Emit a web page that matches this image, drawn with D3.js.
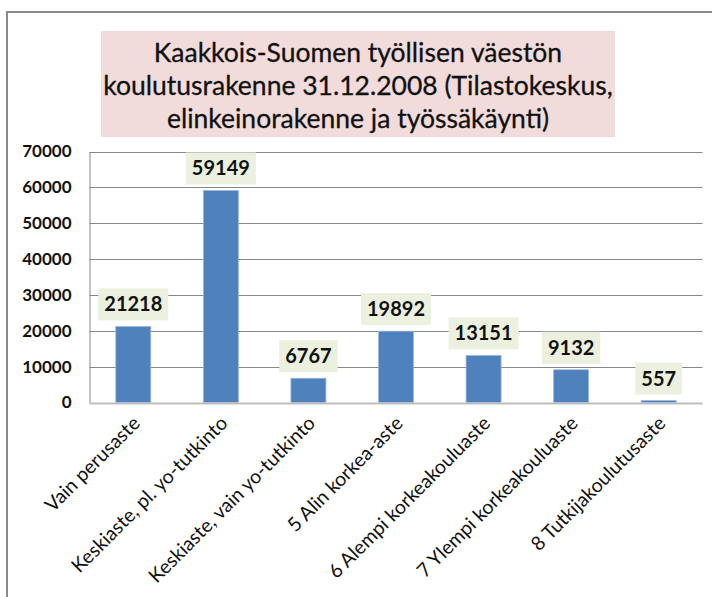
<!DOCTYPE html>
<html>
<head>
<meta charset="utf-8">
<script src="https://cdn.jsdelivr.net/npm/d3@7"></script>
<style>
  body { margin: 0; background: #fff; }
  svg { display: block; font-family: Lato, "Open Sans", sans-serif; }
</style>
</head>
<body>
<svg width="712" height="597"></svg>
<script>
// data
const categories = [
  "Vain perusaste",
  "Keskiaste, pl. yo-tutkinto",
  "Keskiaste, vain yo-tutkinto",
  "5 Alin korkea-aste",
  "6 Alempi korkeakouluaste",
  "7 Ylempi korkeakouluaste",
  "8 Tutkijakoulutusaste"
];
const values = [21218, 59149, 6767, 19892, 13151, 9132, 557];
const yTicks = [0, 10000, 20000, 30000, 40000, 50000, 60000, 70000];
const titleLines = [
  "Kaakkois-Suomen työllisen väestön",
  "koulutusrakenne 31.12.2008 (Tilastokeskus,",
  "elinkeinorakenne ja työssäkäynti)"
];

var svg = d3.select("svg");

// kehys (vain vasen ja ylä reuna näkyy)
svg.append("path")
  .attr("d", "M7,597 V12 H712")
  .attr("fill", "none")
  .attr("stroke", "#8a8a8a")
  .attr("stroke-width", 2);

// otsikko
svg.append("rect")
  .attr("x", 101).attr("y", 31)
  .attr("width", 514).attr("height", 106)
  .attr("fill", "#f2dcdb");

svg.append("g")
  .selectAll("text")
  .data(titleLines)
  .enter()
  .append("text")
  .attr("x", 358)
  .attr("y", (d, i) => 62 + i * 33)
  .attr("text-anchor", "middle")
  .attr("font-size", 26.5)
  .attr("fill", "#111")
  .attr("stroke", "#111")
  .attr("stroke-width", 0.3)
  .text(d => d);

const plotLeft = 89.5, plotRight = 702.5, plotTop = 151.5, plotBottom = 402.5;

var x = d3.scaleBand().domain(categories).range([plotLeft, plotRight]).paddingInner(0.6).paddingOuter(0.3);
var y = d3.scaleLinear().domain([0, 70000]).range([plotBottom, plotTop]);

// ruudukko
svg.append("g")
  .selectAll("line")
  .data(yTicks.filter(d => d > 0))
  .enter()
  .append("line")
  .attr("x1", plotLeft).attr("x2", plotRight)
  .attr("y1", d => Math.round(y(d)) + 0.5)
  .attr("y2", d => Math.round(y(d)) + 0.5)
  .attr("stroke", "#888");

// y-akseli
svg.append("g")
  .attr("transform", "translate(" + plotLeft + ",0)")
  .call(d3.axisLeft(y).tickValues(yTicks).tickFormat(d3.format("d")).tickSize(0).tickPadding(18))
  .call(g => g.select(".domain").attr("stroke", "#888"))
  .call(g => g.selectAll("text")
    .attr("font-family", "Lato, sans-serif")
    .attr("font-size", 17)
    .attr("font-weight", "bold")
    .attr("fill", "#111"));

// pylväät
svg.append("g")
  .selectAll("rect")
  .data(values)
  .enter()
  .append("rect")
  .attr("x", (d, i) => x(categories[i]))
  .attr("y", d => y(d))
  .attr("width", x.bandwidth())
  .attr("height", d => plotBottom - y(d))
  .attr("fill", "#4f81bd")
  .attr("stroke", "#9dbbe0")
  .attr("stroke-width", 0.8);

// x-akseli
svg.append("line")
  .attr("x1", plotLeft).attr("x2", plotRight)
  .attr("y1", plotBottom + 1).attr("y2", plotBottom + 1)
  .attr("stroke", "#bdbdbd")
  .attr("stroke-width", 2);

svg.append("g")
  .selectAll("text")
  .data(categories)
  .enter()
  .append("text")
  .attr("transform", d => "translate(" + (x(d) + x.bandwidth() / 2 + 8) + "," + (plotBottom + 22) + ") rotate(-45)")
  .attr("text-anchor", "end")
  .attr("font-size", 19.5)
  .attr("fill", "#111")
  .text(d => d);

// arvolaatikot
const lab = svg.append("g")
  .selectAll("g")
  .data(values)
  .enter()
  .append("g")
  .attr("transform", (d, i) => "translate(" + (x(categories[i]) + x.bandwidth() / 2) + "," + (y(d) - 6) + ")");

lab.append("rect").attr("fill", "#ebf1de");
lab.append("text")
  .attr("text-anchor", "middle")
  .attr("y", -9)
  .attr("font-size", 20)
  .attr("font-weight", "bold")
  .attr("fill", "#111")
  .text(d => d);

lab.each(function () {
  const g = d3.select(this);
  const w = g.select("text").node().getComputedTextLength() + 12;
  g.select("rect")
    .attr("x", -w / 2).attr("y", -32)
    .attr("width", w).attr("height", 32);
});
</script>
</body>
</html>
